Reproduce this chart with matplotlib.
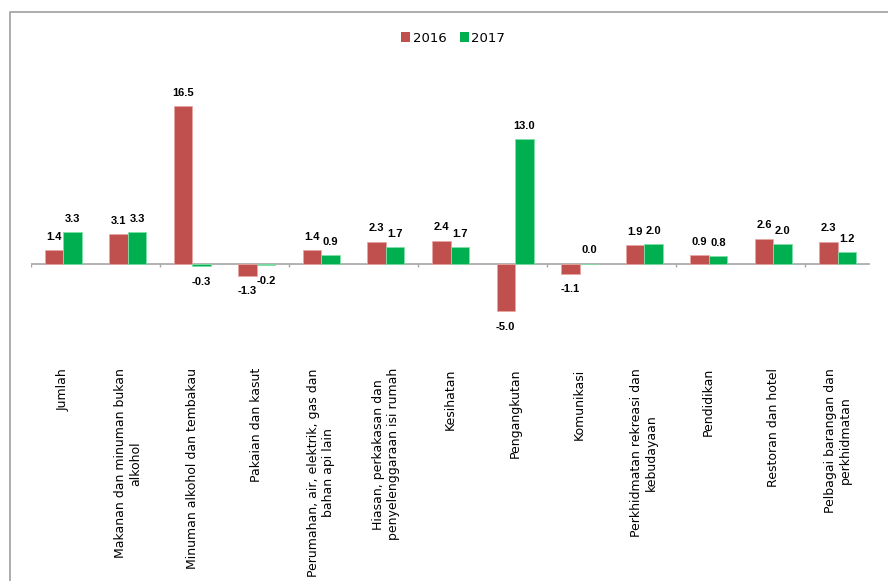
import matplotlib
matplotlib.use("Agg")
import matplotlib.pyplot as plt
from matplotlib.lines import Line2D
from matplotlib.patches import Patch
import numpy as np

categories = [
    "Jumlah",
    "Makanan dan minuman bukan\nalkohol",
    "Minuman alkohol dan tembakau",
    "Pakaian dan kasut",
    "Perumahan, air, elektrik, gas dan\nbahan api lain",
    "Hiasan, perkakasan dan\npenyelenggaraan isi rumah",
    "Kesihatan",
    "Pengangkutan",
    "Komunikasi",
    "Perkhidmatan rekreasi dan\nkebudayaan",
    "Pendidikan",
    "Restoran dan hotel",
    "Pelbagai barangan dan\nperkhidmatan",
]
values_2016 = [1.4, 3.1, 16.5, -1.3, 1.4, 2.3, 2.4, -5.0, -1.1, 1.9, 0.9, 2.6, 2.3]
values_2017 = [3.3, 3.3, -0.3, -0.2, 0.9, 1.7, 1.7, 13.0, 0.0, 2.0, 0.8, 2.0, 1.2]
series_names = ["2016", "2017"]

RED = "#C0504D"
GREEN = "#00B050"
plt.rcParams['font.family'] = ['DejaVu Sans']

W, H = 888, 581
fig = plt.figure(figsize=(W / 100, H / 100), dpi=100)

# axes placement in pixels
x0, x1 = 31, 870
ytop, ybot = 60, 362
ax = fig.add_axes([x0 / W, 1 - ybot / H, (x1 - x0) / W, (ybot - ytop) / H])
zero_px = 263.5
ppu = 9.55
ax.set_xlim(-0.5, len(categories) - 0.5)
ax.set_ylim(-(ybot - zero_px) / ppu, (zero_px - ytop) / ppu)

x = np.arange(len(categories))
bw = 0.287
b1 = ax.bar(x - bw / 2, values_2016, bw, color=RED, edgecolor="#E6A5A3", linewidth=0.6)
b2 = ax.bar(x + bw / 2, values_2017, bw, color=GREEN, edgecolor="#7FE0A8", linewidth=0.6)

lab_font = dict(fontsize=8, fontweight="bold", family=["Liberation Sans", "DejaVu Sans"])
for bars, vals in ((b1, values_2016), (b2, values_2017)):
    for rect, v in zip(bars, vals):
        cx = rect.get_x() + rect.get_width() / 2
        if v >= 0:
            ax.annotate(f"{v:.1f}", (cx, v), xytext=(0, 6), textcoords="offset points",
                        ha="center", va="bottom", **lab_font)
        else:
            ax.annotate(f"{v:.1f}", (cx, v), xytext=(0, -7.5), textcoords="offset points",
                        ha="center", va="top", **lab_font)

ax.axhline(0, color="#A6A6A6", linewidth=1.2, zorder=0.5)
tick_pos = np.arange(-0.5, len(categories) - 1, 2)
ax.vlines(tick_pos, -0.35, 0, color="#A6A6A6", linewidth=1)

for s in ax.spines.values():
    s.set_visible(False)
ax.set_yticks([])
ax.set_xticks(x)
ax.set_xticklabels(categories, rotation=90, fontsize=9, multialignment="center",
                   va="top", ha="center")
ax.tick_params(axis="x", length=0, pad=4.5)

handles = [Patch(facecolor=RED, edgecolor="none"), Patch(facecolor=GREEN, edgecolor="none")]
fig.legend(handles, series_names, loc="center", bbox_to_anchor=(453 / W, 1 - 38 / H),
           ncol=2, frameon=False, fontsize=9.5, handlelength=0.7, handleheight=0.7,
           handletextpad=0.2, columnspacing=1.0)

# outer chart border (cropped at right/bottom)
fig.add_artist(Line2D([10 / W, 10 / W, 1.0], [0.0, 1 - 12 / H, 1 - 12 / H],
                      transform=fig.transFigure, color="#A6A6A6", linewidth=1.3))

fig.savefig("out.png", dpi=100)
